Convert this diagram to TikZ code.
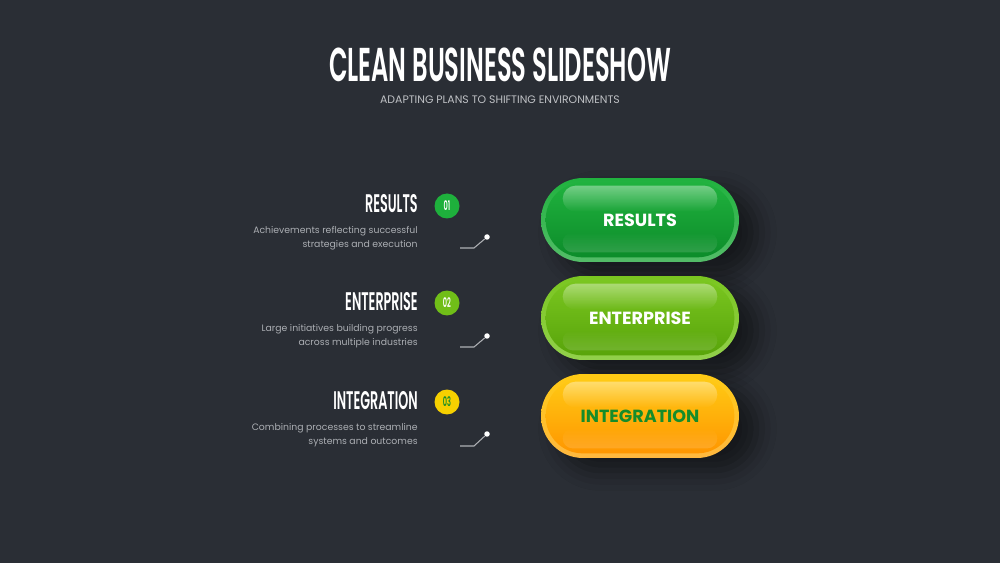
\documentclass[tikz,border=0pt]{standalone}
\usepackage{fontspec}
\setmainfont{Poppins}
\newfontfamily\headfont{Poppins SemiBold}[FakeStretch=0.5]
\newfontfamily\titlefont{Poppins SemiBold}[FakeStretch=0.51]
\usetikzlibrary{shadows.blur,fadings}

\definecolor{bgc}{RGB}{42,46,53}
\definecolor{descgray}{RGB}{172,175,180}
\definecolor{subgray}{RGB}{190,192,196}
\definecolor{linegray}{RGB}{175,177,181}
% pill colours
\definecolor{gTop}{RGB}{32,178,62}
\definecolor{gBot}{RGB}{12,140,42}
\definecolor{gRim}{RGB}{84,188,104}
\definecolor{lTop}{RGB}{122,198,32}
\definecolor{lBot}{RGB}{88,164,10}
\definecolor{lRim}{RGB}{146,208,76}
\definecolor{oTop}{RGB}{255,202,20}
\definecolor{oBot}{RGB}{255,150,0}
\definecolor{oRim}{RGB}{255,184,64}
\definecolor{numG}{RGB}{30,176,60}
\definecolor{numL}{RGB}{112,190,24}
\definecolor{numY}{RGB}{246,208,0}
\definecolor{intgreen}{RGB}{22,140,42}

\begin{document}
\begin{tikzpicture}[x=0.02cm,y=-0.02cm,
 pill/.style={minimum width=3.96cm,minimum height=1.68cm,rounded corners=0.84cm,inner sep=0pt,
  blur shadow={shadow xshift=0.35cm,shadow yshift=-0.25cm,shadow blur radius=0.4cm,shadow opacity=50}},
 body/.style={rounded corners=0.74cm},
 gloss/.style={white,opacity=0.38,path fading=south,rounded corners=0.26cm},
 glow/.style={white,opacity=0.14,path fading=north,rounded corners=0.2cm},
 pilltext/.style={font=\fontsize{10}{11}\selectfont\bfseries,text=white},
 head/.style={font=\headfont\fontsize{14.5}{15}\selectfont,text=white,anchor=base east,inner sep=0pt},
 desc/.style={font=\fontsize{5.3}{8}\selectfont,text=descgray,align=right,anchor=east,inner sep=0pt},
 num/.style={circle,minimum size=0.5cm,inner sep=0pt,font=\headfont\fontsize{7.5}{7.5}\selectfont,text=white},
 tick/.style={linegray,line width=0.6pt},
 dot/.style={circle,fill=white,minimum size=0.11cm,inner sep=0pt}]
\fill[bgc] (0,0) rectangle (1000,563);
\useasboundingbox (0,0) rectangle (1000,563);

% title
\node[font=\titlefont\fontsize{27}{29}\selectfont,text=white,anchor=base,inner sep=0pt] (title) at (500,82) {CLEAN BUSINESS SLIDESHOW};
\node[font=\fontsize{6.2}{7}\selectfont,text=subgray,anchor=base,inner sep=0pt] (sub) at (500,104) {ADAPTING PLANS TO SHIFTING ENVIRONMENTS};

% pills
\node[pill,top color=gTop,bottom color=gRim] (p1) at (640,220) {};
\path[body,top color=gTop,bottom color=gBot] ([shift={(5,5)}]p1.north west) rectangle ([shift={(-5,-5)}]p1.south east);
\fill[gloss] ([shift={(22,8)}]p1.north west) rectangle ([shift={(-22,34)}]p1.north east);
\fill[glow] ([shift={(22,-30)}]p1.south west) rectangle ([shift={(-22,-10)}]p1.south east);
\node[pilltext] (l1) at (p1) {RESULTS};

\node[pill,top color=lTop,bottom color=lRim] (p2) at (640,318) {};
\path[body,top color=lTop,bottom color=lBot] ([shift={(5,5)}]p2.north west) rectangle ([shift={(-5,-5)}]p2.south east);
\fill[gloss] ([shift={(22,8)}]p2.north west) rectangle ([shift={(-22,34)}]p2.north east);
\fill[glow] ([shift={(22,-30)}]p2.south west) rectangle ([shift={(-22,-10)}]p2.south east);
\node[pilltext] (l2) at (p2) {ENTERPRISE};

\node[pill,top color=oTop,bottom color=oRim] (p3) at (640,416) {};
\path[body,top color=oTop,bottom color=oBot] ([shift={(5,5)}]p3.north west) rectangle ([shift={(-5,-5)}]p3.south east);
\fill[gloss] ([shift={(22,8)}]p3.north west) rectangle ([shift={(-22,34)}]p3.north east);
\fill[glow] ([shift={(22,-30)}]p3.south west) rectangle ([shift={(-22,-10)}]p3.south east);
\node[pilltext,text=intgreen] (l3) at (p3) {INTEGRATION};

% left column
\node[head] (h1) at (418,213) {RESULTS};
\node[num,fill=numG] (n1) at (447,206) {01};
\node[desc] (d1) at (418,238) {Achievements reflecting successful\\strategies and execution};
\coordinate (a1) at (460,248);
\coordinate (b1) at (474,248);
\node[dot] (e1) at (487,237) {};
\draw[tick] (a1) -- (b1) -- (e1);

\node[head] (h2) at (418,311) {ENTERPRISE};
\node[num,fill=numL] (n2) at (447,303) {02};
\node[desc] (d2) at (418,336) {Large initiatives building progress\\across multiple industries};
\coordinate (a2) at (460,347);
\coordinate (b2) at (474,347);
\node[dot] (e2) at (487,336) {};
\draw[tick] (a2) -- (b2) -- (e2);

\node[head] (h3) at (418,410) {INTEGRATION};
\node[num,fill=numY,text=intgreen] (n3) at (447,402) {03};
\node[desc] (d3) at (418,435) {Combining processes to streamline\\systems and outcomes};
\coordinate (a3) at (460,446);
\coordinate (b3) at (474,446);
\node[dot] (e3) at (487,434) {};
\draw[tick] (a3) -- (b3) -- (e3);
\end{tikzpicture}
\end{document}
